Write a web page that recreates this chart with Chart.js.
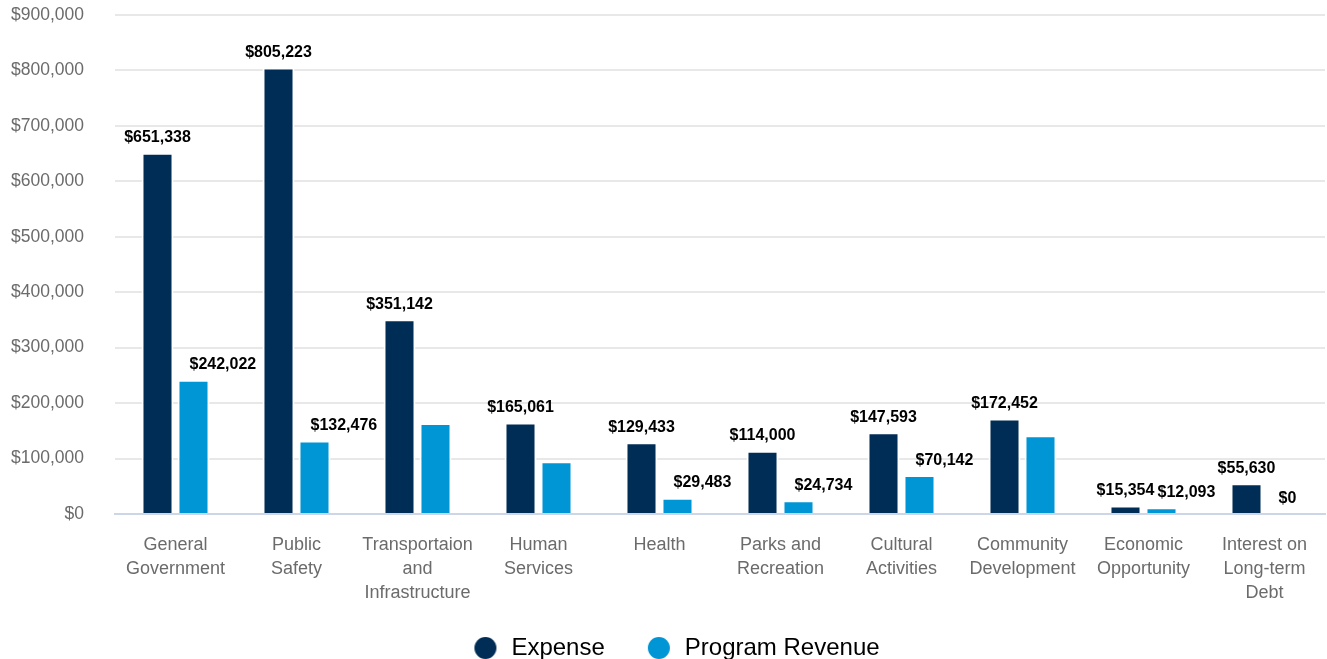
<!DOCTYPE html>
<html>
<head>
<meta charset="utf-8">
<script src="https://cdn.jsdelivr.net/npm/chart.js@4/dist/chart.umd.min.js"></script>
<style>
  html, body { margin: 0; padding: 0; background: #fff; overflow: hidden; }
  #wrap { width: 1327px; height: 670px; position: relative; }
</style>
</head>
<body>
<div id="wrap"><canvas id="chart"></canvas></div>
<script>
const categories = [
  ['General', 'Government'],
  ['Public', 'Safety'],
  ['Transportaion', 'and', 'Infrastructure'],
  ['Human', 'Services'],
  ['Health'],
  ['Parks and', 'Recreation'],
  ['Cultural', 'Activities'],
  ['Community', 'Development'],
  ['Economic', 'Opportunity'],
  ['Interest on', 'Long-term', 'Debt']
];
const expense = [651338, 805223, 351142, 165061, 129433, 114000, 147593, 172452, 15354, 55630];
const programRevenue = [242022, 132476, 164000, 95000, 29483, 24734, 70142, 142000, 12093, 0];
// revenue bars that carry a value label in the original
const showRevenueLabel = [true, true, false, false, true, true, true, false, true, true];
const yTicks = [0, 100000, 200000, 300000, 400000, 500000, 600000, 700000, 800000, 900000];

const EXPENSE_COLOR = '#002d56';
const REVENUE_COLOR = '#0096d6';
const FONT = '"Liberation Sans", Arial, sans-serif';

const fmt = v => '$' + v.toLocaleString('en-US');

// legend marker: circle sitting at the right of a wider box, gives the spacing of the original
function legendDot(color) {
  const c = document.createElement('canvas');
  c.width = 44;
  c.height = 24;
  const g = c.getContext('2d');
  g.fillStyle = color;
  g.beginPath();
  g.arc(30, 12, 11, 0, Math.PI * 2);
  g.fill();
  return c;
}

const valueLabels = {
  id: 'valueLabels',
  afterDatasetsDraw(chart) {
    const ctx = chart.ctx;
    ctx.save();
    ctx.font = 'bold 16px ' + FONT;
    ctx.fillStyle = '#000';
    ctx.textBaseline = 'middle';
    chart.data.datasets.forEach((ds, di) => {
      chart.getDatasetMeta(di).data.forEach((bar, i) => {
        if (di === 1 && !showRevenueLabel[i]) return;
        const txt = fmt(ds.data[i]);
        if (di === 0) {
          ctx.textAlign = 'center';
          ctx.fillText(txt, bar.x, bar.y - 15);
        } else {
          ctx.textAlign = 'left';
          ctx.fillText(txt, bar.x - 4, bar.y - 15);
        }
      });
    });
    ctx.restore();
  }
};

new Chart(document.getElementById('chart'), {
  type: 'bar',
  data: {
    labels: categories,
    datasets: [
      {
        label: 'Expense',
        data: expense,
        backgroundColor: EXPENSE_COLOR,
        borderColor: '#ffffff',
        borderWidth: { left: 2, right: 2, top: 2, bottom: 0 },
        barPercentage: 0.89,
        categoryPercentage: 0.595
      },
      {
        label: 'Program Revenue',
        data: programRevenue,
        backgroundColor: REVENUE_COLOR,
        borderColor: '#ffffff',
        borderWidth: { left: 2, right: 2, top: 2, bottom: 0 },
        barPercentage: 0.89,
        categoryPercentage: 0.595
      }
    ]
  },
  options: {
    responsive: true,
    maintainAspectRatio: false,
    animation: false,
    layout: { padding: { left: 10, right: 2, top: 0, bottom: 0 } },
    plugins: {
      tooltip: { enabled: false },
      legend: {
        position: 'bottom',
        labels: {
          usePointStyle: true,
          pointStyleWidth: 44,
          boxHeight: 24,
          padding: 24,
          color: '#000',
          font: { family: FONT, size: 24 },
          generateLabels(chart) {
            const items = Chart.defaults.plugins.legend.labels.generateLabels(chart);
            items.forEach((it, i) => {
              it.pointStyle = legendDot(i === 0 ? EXPENSE_COLOR : REVENUE_COLOR);
            });
            return items;
          }
        }
      }
    },
    scales: {
      x: {
        grid: { display: false },
        border: { color: '#cdd6e8', width: 2 },
        ticks: {
          color: '#6b6b6b',
          padding: 11,
          maxRotation: 0,
          autoSkip: false,
          font: { family: FONT, size: 18, lineHeight: 1.333 }
        },
        afterFit(scale) { scale.height = 98; }
      },
      y: {
        min: 0,
        max: 900000,
        border: { display: false },
        grid: { color: '#e8e8e8', lineWidth: 2, drawTicks: false },
        afterBuildTicks(scale) { scale.ticks = yTicks.map(v => ({ value: v })); },
        ticks: {
          color: '#6b6b6b',
          padding: 31,
          callback: v => fmt(v),
          font: { family: FONT, size: 17.5 }
        },
        afterFit(scale) {
          scale.width = 105;
          scale.paddingTop = 15;
        }
      }
    }
  },
  plugins: [valueLabels]
});
</script>
</body>
</html>
